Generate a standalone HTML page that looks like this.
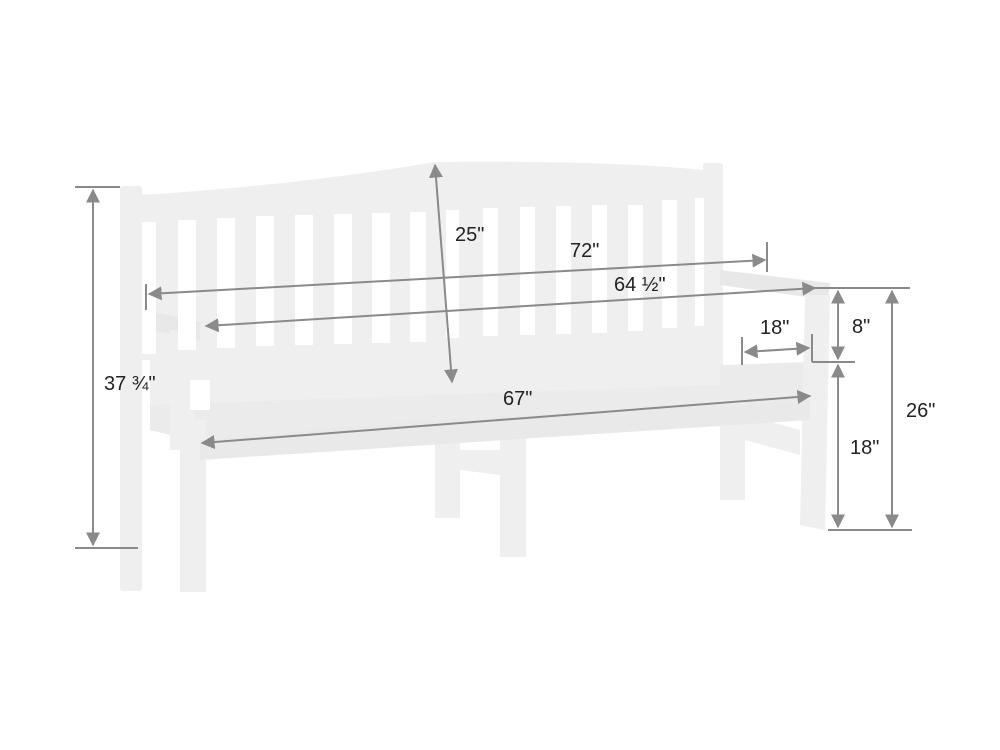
<!DOCTYPE html>
<html><head><style>html,body{margin:0;padding:0;background:#fff}svg{display:block}</style></head><body>
<svg width="1000" height="750" viewBox="0 0 1000 750" xmlns="http://www.w3.org/2000/svg">
<defs><marker id="a" viewBox="0 0 10 10" refX="9" refY="5" markerWidth="7" markerHeight="7" orient="auto-start-reverse"><path d="M0,0 L10,5 L0,10 z" fill="#8a8a8a"/></marker></defs>
<g fill="#efefef">
<path d="M140,195 Q300,185 435,162 Q600,160 705,170 L705,360 L140,360 Z"/>
<rect x="120" y="186" width="22" height="405" rx="3"/>
<rect x="703" y="163" width="20" height="240" rx="3"/>
<path d="M150,385 L810,362 L812,400 L190,440 L150,430 Z" fill="#ebebeb"/>
<path d="M150,360 L720,340 L720,385 L150,405 Z"/>
<path d="M145,310 L200,322 L200,340 L150,330 Z" fill="#e8e8e8"/>
<rect x="170" y="330" width="25" height="120"/>
<path d="M720,270 L830,283 L828,300 L720,285 Z" fill="#e8e8e8"/>
<rect x="180" y="420" width="26" height="172"/>
<rect x="435" y="420" width="25" height="98"/>
<rect x="500" y="420" width="26" height="137"/>
<rect x="720" y="400" width="25" height="100"/>
<path d="M805,295 L830,295 L825,530 L800,525 Z"/>
<path d="M460,450 L500,450 L500,475 L460,470Z"/>
<path d="M745,415 L800,430 L800,455 L745,440Z"/>
<path d="M200,440 L430,420 L540,415 L810,400 L810,420 L200,460Z" fill="#e9e9e9"/>
</g>
<g fill="#fff">
<rect x="142" y="222" width="14" height="132"/><rect x="178" y="220" width="18" height="130"/>
<rect x="217" y="218" width="18" height="130"/><rect x="256" y="216" width="18" height="130"/>
<rect x="295" y="215" width="18" height="130"/><rect x="334" y="214" width="18" height="130"/>
<rect x="372" y="213" width="18" height="130"/><rect x="410" y="212" width="16" height="130"/>
<rect x="446" y="210" width="13" height="128"/><rect x="483" y="208" width="15" height="128"/>
<rect x="520" y="207" width="15" height="128"/><rect x="556" y="206" width="15" height="128"/>
<rect x="592" y="205" width="15" height="128"/><rect x="628" y="205" width="15" height="126"/>
<rect x="662" y="200" width="15" height="128"/><rect x="695" y="198" width="9" height="128"/>
<rect x="190" y="380" width="20" height="30"/>
</g>
<g stroke="#8a8a8a" stroke-width="2" fill="none">
<line x1="75" y1="187" x2="120" y2="187"/><line x1="75" y1="548" x2="138" y2="548"/>
<line x1="93" y1="190" x2="93" y2="545" marker-start="url(#a)" marker-end="url(#a)"/>
<line x1="435" y1="165" x2="452" y2="382" marker-start="url(#a)" marker-end="url(#a)"/>
<line x1="146" y1="284" x2="146" y2="310"/><line x1="767" y1="242" x2="767" y2="272"/>
<line x1="149" y1="294" x2="765" y2="260" marker-start="url(#a)" marker-end="url(#a)"/>
<line x1="206" y1="326" x2="815" y2="288" marker-start="url(#a)" marker-end="url(#a)"/>
<line x1="202" y1="443" x2="810" y2="396" marker-start="url(#a)" marker-end="url(#a)"/>
<line x1="742" y1="337" x2="742" y2="365"/><line x1="812" y1="334" x2="812" y2="362"/>
<line x1="745" y1="352" x2="809" y2="348" marker-start="url(#a)" marker-end="url(#a)"/>
<line x1="815" y1="288" x2="910" y2="288"/><line x1="812" y1="362" x2="855" y2="362"/>
<line x1="828" y1="530" x2="912" y2="530"/>
<line x1="838" y1="291" x2="838" y2="359" marker-start="url(#a)" marker-end="url(#a)"/>
<line x1="838" y1="365" x2="838" y2="527" marker-start="url(#a)" marker-end="url(#a)"/>
<line x1="892" y1="291" x2="892" y2="527" marker-start="url(#a)" marker-end="url(#a)"/>
</g>
<g font-family="Liberation Sans, sans-serif" font-size="20" fill="#222">
<text x="104" y="390">37 ¾"</text>
<text x="455" y="241">25"</text>
<text x="570" y="257">72"</text>
<text x="614" y="291">64 ½"</text>
<text x="503" y="405">67"</text>
<text x="760" y="334">18"</text>
<text x="852" y="333">8"</text>
<text x="850" y="454">18"</text>
<text x="906" y="417">26"</text>
</g>
</svg>
</body></html>
